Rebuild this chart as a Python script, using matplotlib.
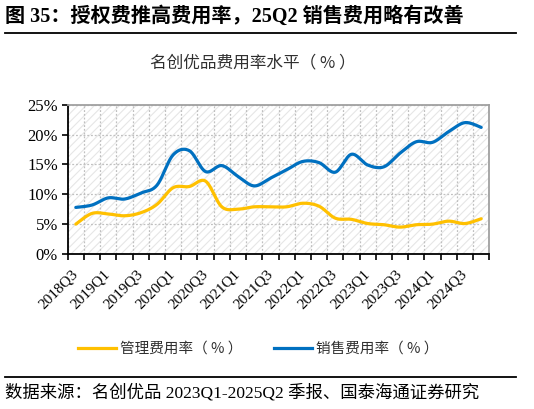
import numpy as np
import matplotlib
matplotlib.use("Agg")
from matplotlib import pyplot as plt
from matplotlib.patches import Rectangle
from matplotlib.lines import Line2D

plt.rcParams['font.family'] = ['Noto Sans CJK SC', 'DejaVu Sans']
plt.rcParams['hatch.linewidth'] = 0.8

quarters = ['2018Q3', '2018Q4', '2019Q1', '2019Q2', '2019Q3', '2019Q4',
            '2020Q1', '2020Q2', '2020Q3', '2020Q4', '2021Q1', '2021Q2',
            '2021Q3', '2021Q4', '2022Q1', '2022Q2', '2022Q3', '2022Q4',
            '2023Q1', '2023Q2', '2023Q3', '2023Q4', '2024Q1', '2024Q2',
            '2024Q3', '2024Q4']
admin_rate = [5.0, 6.8, 6.7, 6.4, 6.9, 8.3, 11.1, 11.3, 12.2, 7.9, 7.5, 7.9,
              7.9, 7.9, 8.5, 8.0, 6.0, 5.8, 5.1, 4.9, 4.5, 4.9, 5.0, 5.5,
              5.1, 5.9]
sales_rate = [7.8, 8.2, 9.4, 9.2, 10.2, 11.5, 16.6, 17.3, 13.8, 14.8, 13.0, 11.4,
              12.7, 14.1, 15.5, 15.3, 13.7, 16.7, 14.9, 14.6, 16.9, 18.8, 18.7, 20.5,
              22.0, 21.2]
yticks = [0, 5, 10, 15, 20, 25]

YELLOW = '#FFC000'
BLUE = '#0070C0'


def smooth(y, n=20):
    # catmull-rom curve through the points, like the office "smoothed line"
    y = np.asarray(y, dtype=float)
    x = np.arange(len(y), dtype=float)
    p = np.concatenate([[y[0]], y, [y[-1]]])
    px = np.concatenate([[x[0]], x, [x[-1]]])
    xs, ys = [], []
    t = np.linspace(0, 1, n, endpoint=False)
    for i in range(1, len(p) - 2):
        for arr, out in ((px, xs), (p, ys)):
            p0, p1, p2, p3 = arr[i - 1], arr[i], arr[i + 1], arr[i + 2]
            out.extend(0.5 * ((2 * p1) + (-p0 + p2) * t
                              + (2 * p0 - 5 * p1 + 4 * p2 - p3) * t ** 2
                              + (-p0 + 3 * p1 - 3 * p2 + p3) * t ** 3))
    xs.append(x[-1])
    ys.append(y[-1])
    return np.array(xs), np.array(ys)


fig = plt.figure(figsize=(5.34, 4.09), dpi=100)
ax = fig.add_axes([0.1268, 0.379, 0.7895, 0.365])

n = len(quarters)
ax.set_xlim(-0.5, n - 0.5)
ax.set_ylim(0, 25)

# hatched background
ax.add_patch(Rectangle((-0.5, 0), n, 25, facecolor='white', edgecolor='#e6e6e6',
                       hatch='////', lw=0, zorder=0))

xs, ys = smooth(admin_rate)
ax.plot(xs, ys, color=YELLOW, lw=2.3, solid_capstyle='round', zorder=3)
xs, ys = smooth(sales_rate)
ax.plot(xs, ys, color=BLUE, lw=2.3, solid_capstyle='round', zorder=3)

ax.set_yticks(yticks)
ax.set_yticklabels([f'{v}%' for v in yticks], family='Liberation Serif', fontsize=12)
ax.tick_params(axis='y', direction='out', length=4, width=1.2, pad=3)

ax.set_xticks(np.arange(0, n, 2))
ax.set_xticklabels(quarters[::2], family='Liberation Serif', fontsize=11,
                   rotation=45, ha='right', va='center', rotation_mode='anchor')
ax.set_xticks(np.arange(-0.5, n, 1), minor=True)
ax.tick_params(axis='x', which='major', length=0, pad=13)
ax.tick_params(axis='x', which='minor', direction='out', length=4, width=1.2)

ax.grid(True, axis='y', which='major', color='#c0c0c0', ls=(0, (1.5, 1.5)), lw=0.9, zorder=1)
ax.grid(True, axis='x', which='minor', color='#c0c0c0', ls=(0, (1.5, 1.5)), lw=0.9, zorder=1)
ax.set_axisbelow(True)

for s in ('left', 'bottom'):
    ax.spines[s].set_color('black')
    ax.spines[s].set_linewidth(1.3)
for s in ('top', 'right'):
    ax.spines[s].set_color('#a0a0a0')
    ax.spines[s].set_linewidth(1.3)

# headings
fig.text(0.009, 1 - 17 / 409, '图 35：授权费推高费用率，25Q2 销售费用略有改善',
         family=['Liberation Serif', 'Noto Sans CJK SC'], fontsize=14.5,
         fontweight='bold', ha='left', va='center')
fig.add_artist(Line2D([0.009, 0.967], [1 - 32.5 / 409] * 2, color='black', lw=1.3))
fig.text(253 / 534, 1 - 62.5 / 409, '名创优品费用率水平（ % ）', fontsize=12,
         ha='center', va='center', color='#303030')

handles = [Line2D([], [], color=YELLOW, lw=2.3),
           Line2D([], [], color=BLUE, lw=2.3)]
fig.legend(handles, ['管理费用率（ % ）', '销售费用率（ % ）'], loc='center',
           bbox_to_anchor=(0.483, 1 - 349 / 409), ncol=2, frameon=False,
           fontsize=10.5, handlelength=2.6, handletextpad=0.25, columnspacing=2.2,
           labelcolor='#303030')

fig.add_artist(Line2D([0.009, 0.967], [1 - 377 / 409] * 2, color='black', lw=1.3))
fig.text(0.009, 1 - 393 / 409, '数据来源：名创优品 2023Q1-2025Q2 季报、国泰海通证券研究',
         family=['Liberation Serif', 'Noto Sans CJK SC'], fontsize=12.5,
         ha='left', va='center')

fig.savefig('out.png', dpi=100)
